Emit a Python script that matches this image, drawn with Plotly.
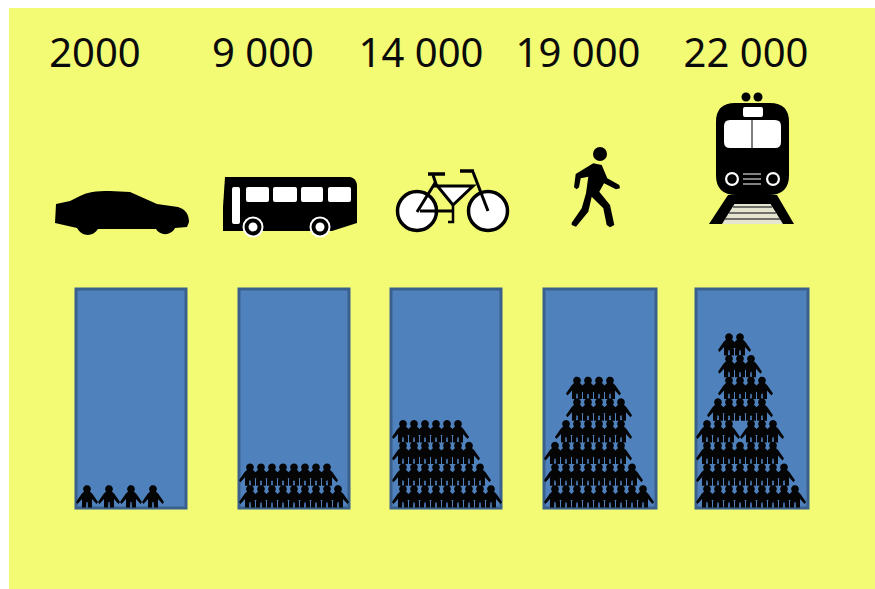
import numpy as np
import plotly.graph_objects as go

# values shown above each column
labels = ["2000", "9 000", "14 000", "19 000", "22 000"]

# occupied slots of each row of little people, bottom row first
car_rows = [[0, 2, 4, 6]]
bus_rows = [list(range(9)), list(range(8))]
bike_rows = [list(range(9)), list(range(8)), list(range(7)), list(range(6))]
walk_rows = [list(range(9)), list(range(8)), list(range(7)),
             [1, 2, 3, 4, 5, 6], [2, 3, 4, 5, 6], [2, 3, 4, 5]]
train_rows = [list(range(9)), list(range(8)), list(range(7)),
              [0, 1, 2, 4, 5, 6], [1, 2, 3, 4, 5], [2, 3, 4, 5], [2, 3, 4], [2, 3]]
all_rows = [car_rows, bus_rows, bike_rows, walk_rows, train_rows]

# layout, in pixels of the page
W, H = 875, 589
YELLOW = "#F3FA74"
BLUE = "#4F81BD"
BLUE_EDGE = "#3A608E"
column_left = [76, 239, 391, 544, 696]
column_right = [186, 349, 501, 656, 808]
column_top, column_bottom = 289, 508
label_x = [95, 263, 421, 578, 746]
label_y = 57
first_head_x = [87, 250, 403, 555, 707]
slot_pitch = 11
row_pitch = 21.7
bottom_head_y = 489

# one person, relative to the centre of the head
body_x = [-2.5, 2.5, 5.5, 11, 9.5, 5, 5, 1, 0.6, -0.6, -1, -5, -5, -9.5, -11, -5.5]
body_y = [2, 2, 5, 13, 15, 10, 18.5, 18.5, 13, 13, 18.5, 18.5, 10, 15, 13, 5]
angle = np.linspace(0, 2 * np.pi, 14)[:-1]
head_x = 3.9 * np.cos(angle)
head_y = 3.9 * np.sin(angle)

people_x, people_y = [], []
for rows, x0 in zip(all_rows, first_head_x):
    for r, slots in enumerate(rows):
        for s in slots:
            cx = x0 + s * slot_pitch
            cy = bottom_head_y - r * row_pitch
            people_x += [cx + v for v in body_x] + [None] + [cx + v for v in head_x] + [None]
            people_y += [cy + v for v in body_y] + [None] + [cy + v for v in head_y] + [None]

fig = go.Figure()

fig.add_trace(go.Bar(
    x=[(a + b) / 2 for a, b in zip(column_left, column_right)],
    width=[b - a for a, b in zip(column_left, column_right)],
    y=[column_bottom - column_top] * 5,
    base=[column_top] * 5,
    marker=dict(color=BLUE, line=dict(color=BLUE_EDGE, width=3)),
    hoverinfo="skip",
))
fig.add_trace(go.Scatter(
    x=people_x, y=people_y, mode="lines", fill="toself",
    fillcolor="#050505", line=dict(width=0, color="#050505"), hoverinfo="skip",
))
fig.add_trace(go.Scatter(
    x=label_x, y=[label_y] * 5, mode="text", text=labels,
    textfont=dict(family="Noto Sans", size=40, color="#0a0a0a"), hoverinfo="skip",
))

shapes = []


def path(d, fill="black"):
    shapes.append(dict(type="path", path=d, fillcolor=fill, line_width=0, xref="x", yref="y"))


def circle(cx, cy, r, fill="black", edge=None, w=0):
    shapes.append(dict(type="circle", x0=cx - r, x1=cx + r, y0=cy - r, y1=cy + r, fillcolor=fill,
                       line=dict(color=edge or fill, width=w), xref="x", yref="y"))


def box(x0, y0, x1, y1, fill="white", r=2):
    path(f"M{x0 + r},{y0} L{x1 - r},{y0} Q{x1},{y0} {x1},{y0 + r} L{x1},{y1 - r} Q{x1},{y1} {x1 - r},{y1} "
         f"L{x0 + r},{y1} Q{x0},{y1} {x0},{y1 - r} L{x0},{y0 + r} Q{x0},{y0} {x0 + r},{y0} Z", fill)


def stroke(points, w=2.5, color="black"):
    d = "M" + " L".join(f"{x},{y}" for x, y in points)
    shapes.append(dict(type="path", path=d, line=dict(color=color, width=w), xref="x", yref="y"))


# background panel
shapes.append(dict(type="rect", x0=9, x1=W, y0=8, y1=H, fillcolor=YELLOW, line_width=0,
                   layer="below", xref="x", yref="y"))

# car
path("M55,223 L56,204 L70,201 L80,196 C88,192 95,191 110,191 L130,192 L157,204 L178,207 "
     "C185,209 189,214 189,222 L187,227 L175,228 C171,236 160,236 156,229 L98,229 "
     "C93,237 82,237 77,228 Z")

# bus
path("M225,177 L350,177 C355,178 357,182 357,186 L357,223 L332,231 L223,231 L223,207 Z")
box(232, 187, 240, 224)
for x0, x1 in [(246, 269), (273, 297), (301, 323), (328, 351)]:
    box(x0, 187, x1, 202)
for cx in [253, 320]:
    circle(cx, 227, 10.5, "white")
    circle(cx, 227, 8.5)
    circle(cx, 227, 4.5, "white")

# bicycle
circle(417, 211, 19.5, "white", "black", 3.5)
circle(488, 211, 19.5, "white", "black", 3.5)
path("M437,186 L472,186 L453,205 Z", "white")
stroke([(417, 212), (435, 183), (453, 205)], 3)
stroke([(420, 211), (453, 211)], 3)
stroke([(433, 186), (473, 186), (453, 205)], 3)
stroke([(473, 172), (488, 211)], 3)
stroke([(428, 174), (445, 174)], 3.5)
stroke([(460, 171), (474, 171)], 3.5)
stroke([(433, 175), (436, 184)], 3)
stroke([(453, 205), (453, 222), (448, 222)], 2.5)

# walker
circle(600, 154, 7)
walker = [(582, 322), (587, 282), (640, 250), (665, 255), (682, 295), (718, 315), (720, 325), (708, 328),
          (672, 310), (658, 335), (690, 375), (703, 435), (690, 442), (680, 435), (670, 385), (635, 350),
          (625, 395), (588, 440), (575, 435), (575, 428), (605, 385), (618, 340), (625, 290), (602, 295),
          (597, 322), (590, 328)]
path("M" + " L".join(f"{380 + x / 3:.1f},{80 + y / 3:.1f}" for x, y in walker) + " Z")

# train
circle(746, 97, 4.5)
circle(758, 97, 4.5)
path("M716,122 Q716,103 735,103 L770,103 Q789,103 789,122 L789,175 Q789,195 769,195 L736,195 Q716,195 716,175 Z")
box(743, 107, 763, 117)
box(724, 120, 781, 148, r=6)
path("M751.5,120 L752.5,120 L752.5,148 L751.5,148 Z")
for cx in [732, 773]:
    circle(cx, 179, 7, "white")
    circle(cx, 179, 4.8)
for y in [174, 179, 184]:
    stroke([(743, y), (761, y)], 1.2, "#d8d8d8")
path("M738,195 L767,195 L783,224 L722,224 Z", "#e6e6d0")
path("M728,195 L709,224 L722,224 L740,195 Z")
path("M777,195 L794,224 L783,224 L765,195 Z")
path("M732,195 L773,195 L771,204 L734,204 Z")
for y, x0, x1 in [(207, 733, 772), (213, 729, 776), (219, 725, 780)]:
    stroke([(x0, y), (x1, y)], 1.6, "#4a4a4a")

fig.update_layout(
    width=W, height=H, margin=dict(l=0, r=0, t=0, b=0),
    paper_bgcolor="white", plot_bgcolor="rgba(0,0,0,0)",
    showlegend=False, shapes=shapes,
    xaxis=dict(range=[0, W], visible=False, fixedrange=True),
    yaxis=dict(range=[H, 0], visible=False, fixedrange=True),
)

fig.write_html("out.html", config={"displayModeBar": False},
               post_script="document.body.style.margin='0';document.body.style.overflow='hidden';")
